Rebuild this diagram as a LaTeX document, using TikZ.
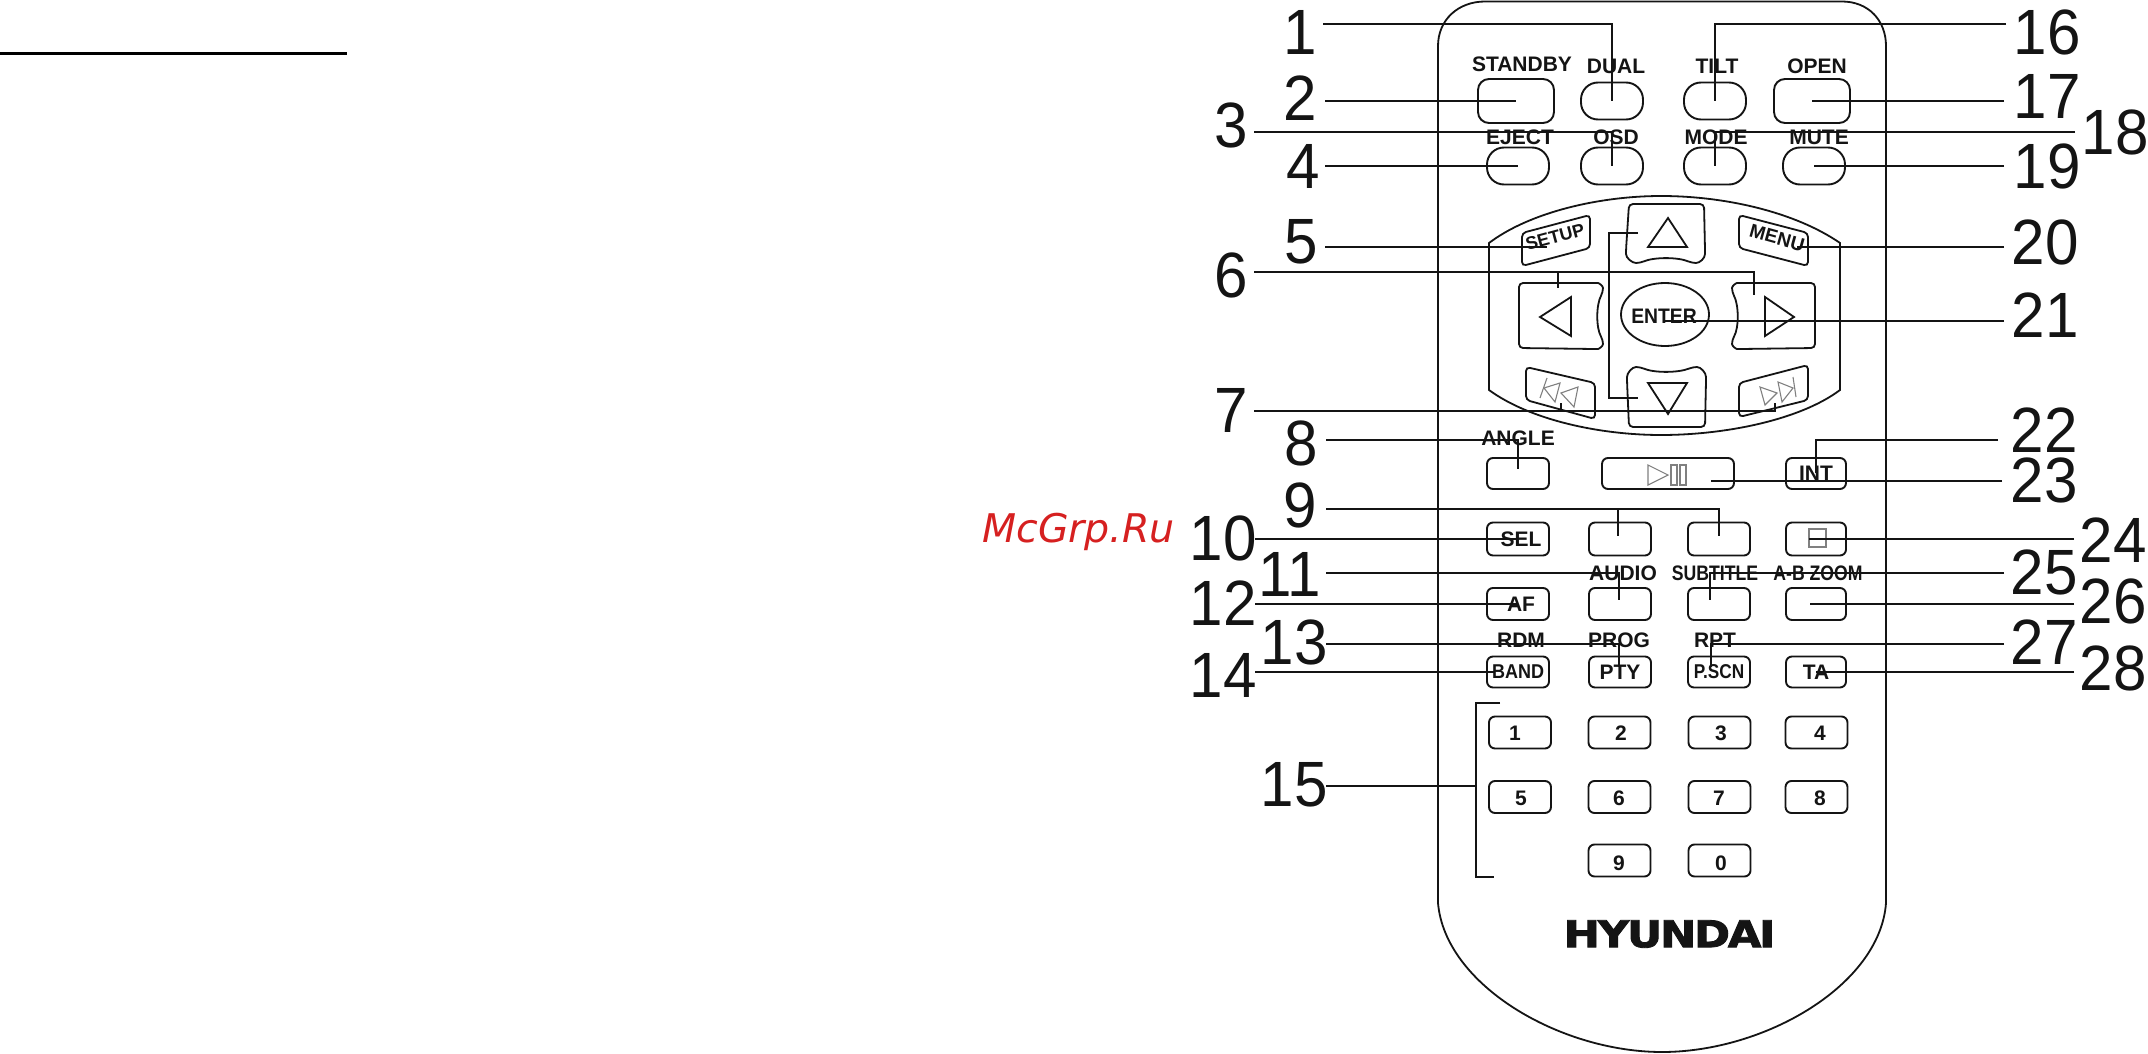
\documentclass[tikz,border=0pt]{standalone}
\usepackage{fontspec}
\setmainfont{Liberation Sans}
\newfontfamily\djv{DejaVu Sans}
\newfontfamily\logofont[BoldFeatures={FakeBold=2.2},LetterSpace=-5]{DejaVu Sans}
\definecolor{wm}{RGB}{214,32,32}
\definecolor{ink}{RGB}{20,20,20}
\newcommand{\nm}[1]{\scalebox{.94}[1]{#1}}
\tikzset{
  ldr/.style={line width=2pt,draw=ink,line join=miter},
  outl/.style={line width=1.8pt,draw=ink},
  btn/.style={draw=ink,line width=1.9pt,inner sep=0pt,rounded corners=6pt},
  oval/.style={btn,rounded corners=17pt,minimum width=62pt,minimum height=37pt},
  big/.style={btn,rounded corners=11pt,minimum width=76pt,minimum height=44pt},
  key/.style={btn,minimum width=62pt,minimum height=32pt},
  num/.style={inner sep=0pt,text=ink,font=\fontsize{64}{64}\selectfont},
  txt/.style={inner sep=0pt,text=ink,font=\fontsize{21}{21}\selectfont\bfseries},
  icon/.style={line width=1.1pt,draw=gray},
}
\begin{document}
\begin{tikzpicture}[x=1pt,y=-1pt]
\useasboundingbox (0,0) rectangle (2148,1054);
\fill[white] (0,0) rectangle (2148,1054);

% rule and watermark
\coordinate (ruleL) at (0,53.5);
\coordinate (ruleR) at (347,53.5);
\draw[line width=3pt,black] (ruleL) -- (ruleR);
\node[inner sep=0pt,text=wm,font=\djv\itshape\fontsize{39.5}{40}\selectfont,anchor=base west] (wmark) at (982,542) {McGrp.Ru};

% body
\draw[outl] (1485,1.5) -- (1842,1.5) .. controls (1868,1.5) and (1886,20) .. (1886,46) -- (1886,903)
  .. controls (1880,985) and (1765,1052) .. (1662,1052)
  .. controls (1560,1052) and (1445,985) .. (1438,903) -- (1438,46)
  .. controls (1438,20) and (1458,1.5) .. (1485,1.5) -- cycle;

% top buttons
\node[big]  (bStandby) at (1516,101) {};
\node[oval] (bDual) at (1612,101) {};
\node[oval] (bTilt) at (1715,101) {};
\node[big]  (bOpen) at (1812,101) {};
\node[oval] (bEject) at (1518,166) {};
\node[oval] (bOsd) at (1612,166) {};
\node[oval] (bMode) at (1715,166) {};
\node[oval] (bMute) at (1814,166) {};
\node[txt] (tStandby) at (1522,64) {STANDBY};
\node[txt] (tDual) at (1616,66) {DUAL};
\node[txt] (tTilt) at (1717,66) {TILT};
\node[txt] (tOpen) at (1817,66) {OPEN};
\node[txt] (tEject) at (1520,137) {EJECT};
\node[txt] (tOsd) at (1616,137) {OSD};
\node[txt] (tMode) at (1716,137) {MODE};
\node[txt] (tMute) at (1819,137) {MUTE};

% d-pad
\draw[outl] (1489,243) .. controls (1530,212) and (1600,196) .. (1661,196)
  .. controls (1725,196) and (1795,212) .. (1840,243) -- (1840,390)
  .. controls (1800,420) and (1725,435) .. (1661,435)
  .. controls (1600,435) and (1530,420) .. (1489,390) -- cycle;
\draw[outl,rounded corners=4pt] (1522,233) -- (1590,215) -- (1590,248) -- (1522,266) -- cycle;
\draw[outl,rounded corners=4pt] (1739,215) -- (1808,233) -- (1808,266) -- (1739,248) -- cycle;
\node[txt,font=\fontsize{18}{18}\selectfont\bfseries,rotate=15] (tSetup) at (1555,237) {SETUP};
\node[txt,font=\fontsize{19}{19}\selectfont\bfseries,rotate=-15.5] (tMenu) at (1777,238) {MENU};
\draw[outl,rounded corners=4pt] (1629,204) -- (1704,204) -- (1705,250)
  .. controls (1705,258) and (1700,263) .. (1692,263)
  .. controls (1678,257) and (1654,257) .. (1640,263)
  .. controls (1632,263) and (1626,258) .. (1626,250) -- cycle;
\draw[outl,rounded corners=4pt] (1629,427) -- (1705,427) -- (1706,381)
  .. controls (1706,373) and (1701,367) .. (1693,367)
  .. controls (1678,373) and (1654,373) .. (1640,367)
  .. controls (1632,367) and (1627,373) .. (1627,381) -- cycle;
\draw[outl,rounded corners=4pt] (1519,283) -- (1594,283)
  .. controls (1599,283) and (1603,286) .. (1603,292)
  .. controls (1596,305) and (1596,328) .. (1603,340)
  .. controls (1603,346) and (1599,349) .. (1594,349) -- (1519,348) -- cycle;
\draw[outl,rounded corners=4pt] (1815,283) -- (1741,283)
  .. controls (1736,283) and (1732,286) .. (1732,292)
  .. controls (1739,305) and (1739,328) .. (1732,340)
  .. controls (1732,346) and (1736,349) .. (1741,349) -- (1815,348) -- cycle;
\draw[outl,line join=miter] (1668,218) -- (1687,247) -- (1648,247) -- cycle;
\draw[outl,line join=miter] (1668,414) -- (1687,383) -- (1648,383) -- cycle;
\draw[outl,line join=miter] (1540,317) -- (1571,297) -- (1571,336) -- cycle;
\draw[outl,line join=miter] (1794,317) -- (1765,297) -- (1765,336) -- cycle;
\draw[outl] (1665,314.5) ellipse [x radius=44, y radius=31.5];
\node[txt,xscale=.92] (tEnter) at (1664,316) {ENTER};
\draw[outl,rounded corners=4pt] (1526,367) -- (1595,383) -- (1595,419) -- (1526,400) -- cycle;
\draw[outl,rounded corners=4pt] (1739,383) -- (1808,365) -- (1808,400) -- (1739,417) -- cycle;
\draw[icon] (1547,378) -- (1540,398);
\draw[icon] (1544,388) -- (1560,383) -- (1555,402) -- cycle;
\draw[icon] (1561,393) -- (1578,387) -- (1574,407) -- cycle;
\draw[icon] (1793,377) -- (1796,397);
\draw[icon] (1793,388) -- (1778,382) -- (1782,402) -- cycle;
\draw[icon] (1777,393) -- (1760,387) -- (1765,405) -- cycle;

% angle row
\node[key,minimum height=31pt] (bAngle) at (1518,473.5) {};
\node[key,minimum width=132pt,minimum height=31pt] (bPlay) at (1668,473.5) {};
\node[key,minimum width=60pt,minimum height=31pt] (bInt) at (1816,473.5) {};
\node[txt] (tAngle) at (1518,438) {ANGLE};
\node[txt] (tInt) at (1816,473) {INT};
\draw[icon] (1648,465) -- (1668,475) -- (1648,485) -- cycle;
\draw[icon] (1671,465) rectangle (1677,485);
\draw[icon] (1680,465) rectangle (1686,485);

% row 3
\node[key,minimum height=33pt] (bSel) at (1518,539) {};
\node[key,minimum height=33pt] (bC2a) at (1620,539) {};
\node[key,minimum height=33pt] (bC3a) at (1719,539) {};
\node[key,minimum width=60pt,minimum height=33pt] (bC4a) at (1816,539) {};
\node[txt] (tSel) at (1521,539) {SEL};
\draw[icon] (1809,529) rectangle (1826,547);

% row 4
\node[key] (bAf) at (1518,604) {};
\node[key] (bAudio) at (1620,604) {};
\node[key] (bSub) at (1719,604) {};
\node[key,minimum width=60pt] (bZoom) at (1816,604) {};
\node[txt] (tAf) at (1521,604) {AF};
\node[txt] (tAudio) at (1623,573) {AUDIO};
\node[txt,xscale=.84] (tSubtitle) at (1715,573) {SUBTITLE};
\node[txt,xscale=.84] (tAB) at (1818,573) {A-B ZOOM};

% row 5
\node[key,minimum height=31pt] (bBand) at (1518,672) {};
\node[key,minimum height=31pt] (bPty) at (1620,672) {};
\node[key,minimum height=31pt] (bPscn) at (1719,672) {};
\node[key,minimum width=60pt,minimum height=31pt] (bTa) at (1816,672) {};
\node[txt] (tRdm) at (1521,640) {RDM};
\node[txt] (tProg) at (1619,640) {PROG};
\node[txt] (tRpt) at (1715,640) {RPT};
\node[txt,font=\fontsize{20}{20}\selectfont\bfseries,xscale=.9] (tBand) at (1518,672) {BAND};
\node[txt] (tPty) at (1620,672) {PTY};
\node[txt,font=\fontsize{20}{20}\selectfont\bfseries,xscale=.86] (tPscn) at (1719,672) {P.SCN};
\node[txt] (tTa) at (1816,672) {TA};

% keypad
\node[key] (k1) at (1520,732.5) {};
\node[key] (k2) at (1619.5,732.5) {};
\node[key] (k3) at (1719.5,732.5) {};
\node[key] (k4) at (1816.5,732.5) {};
\node[key] (k5) at (1520,797) {};
\node[key] (k6) at (1619.5,797) {};
\node[key] (k7) at (1719.5,797) {};
\node[key] (k8) at (1816.5,797) {};
\node[key] (k9) at (1619.5,860.5) {};
\node[key] (k0) at (1719.5,860.5) {};
\node[txt] (d1) at (1515,733) {1};
\node[txt] (d2) at (1621,733) {2};
\node[txt] (d3) at (1721,733) {3};
\node[txt] (d4) at (1820,733) {4};
\node[txt] (d5) at (1521,798) {5};
\node[txt] (d6) at (1619,798) {6};
\node[txt] (d7) at (1719,798) {7};
\node[txt] (d8) at (1820,798) {8};
\node[txt] (d9) at (1619,863) {9};
\node[txt] (d0) at (1721,863) {0};

% logo
\node[inner sep=0pt,text=ink,font=\logofont\bfseries\fontsize{37}{37}\selectfont,xscale=1.17] (logo) at (1669.5,934) {HYUNDAI};

% number labels
\node[num] (n1) at (1300,32) {\nm{1}};
\node[num] (n2) at (1300,98) {\nm{2}};
\node[num] (n3) at (1231,125) {\nm{3}};
\node[num] (n4) at (1303,166) {\nm{4}};
\node[num] (n5) at (1301,242) {\nm{5}};
\node[num] (n6) at (1231,275) {\nm{6}};
\node[num] (n7) at (1231,410) {\nm{7}};
\node[num] (n8) at (1301,443) {\nm{8}};
\node[num] (n9) at (1300,505) {\nm{9}};
\node[num] (n10) at (1223,538) {\nm{10}};
\node[num] (n11) at (1290,574) {\nm{11}};
\node[num] (n12) at (1223,603) {\nm{12}};
\node[num] (n13) at (1294,642) {\nm{13}};
\node[num] (n14) at (1223,675) {\nm{14}};
\node[num] (n15) at (1294,785) {\nm{15}};
\node[num] (n16) at (2047,32) {\nm{16}};
\node[num] (n17) at (2047,96) {\nm{17}};
\node[num] (n18) at (2115,132) {\nm{18}};
\node[num] (n19) at (2047,166) {\nm{19}};
\node[num] (n20) at (2045,242) {\nm{20}};
\node[num] (n21) at (2045,315) {\nm{21}};
\node[num] (n22) at (2044,430) {\nm{22}};
\node[num] (n23) at (2044,480) {\nm{23}};
\node[num] (n24) at (2113,540) {\nm{24}};
\node[num] (n25) at (2044,572) {\nm{25}};
\node[num] (n26) at (2113,601) {\nm{26}};
\node[num] (n27) at (2044,642) {\nm{27}};
\node[num] (n28) at (2113,668) {\nm{28}};

% leader start points
\coordinate (s1) at (1323,24);
\coordinate (s2) at (1325,101);
\coordinate (s3) at (1254,132);
\coordinate (s4) at (1325,166);
\coordinate (s5) at (1325,247);
\coordinate (s6) at (1254,272);
\coordinate (s7) at (1254,411);
\coordinate (s8) at (1326,440);
\coordinate (s9) at (1326,509);
\coordinate (s10) at (1255,539);
\coordinate (s11) at (1326,573);
\coordinate (s12) at (1255,604);
\coordinate (s13) at (1326,644);
\coordinate (s14) at (1255,672);
\coordinate (s15) at (1326,786);
\coordinate (s16) at (2006,24);
\coordinate (s17) at (2004,101);
\coordinate (s18) at (2075,132);
\coordinate (s19) at (2004,166);
\coordinate (s20) at (2004,247);
\coordinate (s21) at (2004,321);
\coordinate (s22) at (1998,440);
\coordinate (s23) at (2002,481);
\coordinate (s24) at (2074,539);
\coordinate (s25) at (2004,573);
\coordinate (s26) at (2074,604);
\coordinate (s27) at (2004,644);
\coordinate (s28) at (2074,672);

% leader end points
\coordinate (e5) at (1547,247);
\coordinate (e6a) at (1558,288);
\coordinate (e6b) at (1754,295);
\coordinate (eUp) at (1638,233);
\coordinate (eDown) at (1638,398);
\coordinate (xB) at (1609,315);
\coordinate (e7a) at (1561,403);
\coordinate (e7b) at (1775,403);
\coordinate (e8) at (1518,469);
\coordinate (e9a) at (1618,536);
\coordinate (e9b) at (1719,536);
\coordinate (e11) at (1619,600);
\coordinate (e13) at (1619,667);
\coordinate (e14) at (1494,672);
\coordinate (brT) at (1500,703);
\coordinate (brB) at (1494,877);
\coordinate (brM) at (1476,786);
\coordinate (e20) at (1797,247);
\coordinate (e21) at (1665,321);
\coordinate (e22) at (1816,473);
\coordinate (e23) at (1711,481);
\coordinate (e24) at (1809,539);
\coordinate (e25) at (1710,600);
\coordinate (e26) at (1810,604);
\coordinate (e27) at (1711,667);

% leaders
\draw[ldr] (s1) -| (bDual.center);
\draw[ldr] (s2) -- (bStandby.center);
\draw[ldr] (s3) -| (bOsd.center);
\draw[ldr] (s4) -- (bEject.center);
\draw[ldr] (s5) -- (e5);
\draw[ldr] (s6) -| (e6b);
\draw[ldr] (e6a |- s6) -- (e6a);
\draw[ldr] (eUp) -- (xB |- eUp) -- (xB |- eDown) -- (eDown);
\draw[ldr] (s7) -- (e7b |- s7) -- (e7b);
\draw[ldr] (e7a |- s7) -- (e7a);
\draw[ldr] (s8) -| (e8);
\draw[ldr] (s9) -| (e9b);
\draw[ldr] (e9a |- s9) -- (e9a);
\draw[ldr] (s10) -- (bSel.center);
\draw[ldr] (s11) -| (e11);
\draw[ldr] (s12) -- (bAf.center);
\draw[ldr] (s13) -| (e13);
\draw[ldr] (s14) -- (e14);
\draw[ldr] (s15) -- (brM);
\draw[ldr] (brT) -- (brT -| brM) -- (brB -| brM) -- (brB);
\draw[ldr] (s16) -| (bTilt.center);
\draw[ldr] (s17) -- (bOpen.center);
\draw[ldr] (s18) -| (bMode.center);
\draw[ldr] (s19) -- (bMute.center);
\draw[ldr] (s20) -- (e20);
\draw[ldr] (s21) -- (e21);
\draw[ldr] (s22) -| (e22);
\draw[ldr] (s23) -- (e23);
\draw[ldr] (s24) -- (e24);
\draw[ldr] (s25) -| (e25);
\draw[ldr] (s26) -- (e26);
\draw[ldr] (s27) -| (e27);
\draw[ldr] (s28) -- (bTa.center);
\end{tikzpicture}
\end{document}
